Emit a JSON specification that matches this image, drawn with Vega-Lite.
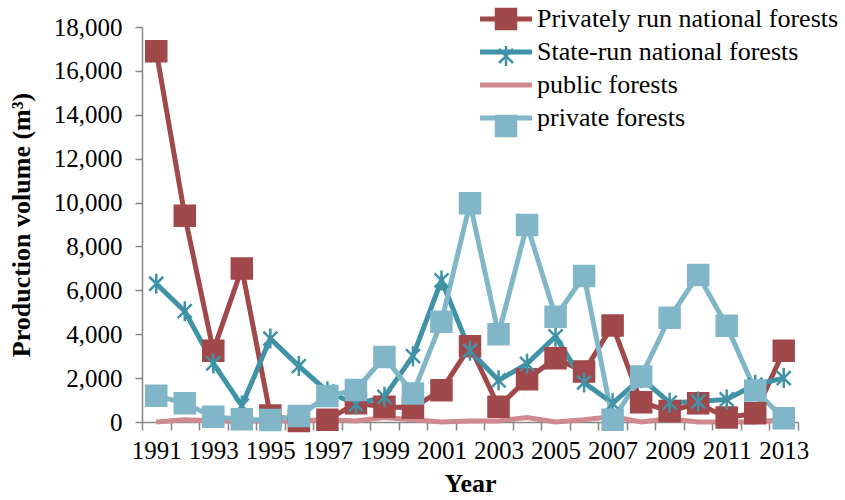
{
  "$schema": "https://vega.github.io/schema/vega-lite/v6.json",
  "width": 656,
  "height": 395,
  "autosize": {"type": "none"},
  "padding": {"left": 142, "top": 27, "right": 47, "bottom": 78},
  "background": "white",
  "config": {"view": {"stroke": null}, "font": "Liberation Serif"},
  "datasets": {
    "main": [
      {"Year": 1991, "Series": "Privately run national forests", "Volume": 16900},
      {"Year": 1992, "Series": "Privately run national forests", "Volume": 9400},
      {"Year": 1993, "Series": "Privately run national forests", "Volume": 3250},
      {"Year": 1994, "Series": "Privately run national forests", "Volume": 7000},
      {"Year": 1995, "Series": "Privately run national forests", "Volume": 300},
      {"Year": 1996, "Series": "Privately run national forests", "Volume": 50},
      {"Year": 1997, "Series": "Privately run national forests", "Volume": 100},
      {"Year": 1998, "Series": "Privately run national forests", "Volume": 850},
      {"Year": 1999, "Series": "Privately run national forests", "Volume": 700},
      {"Year": 2000, "Series": "Privately run national forests", "Volume": 650},
      {"Year": 2001, "Series": "Privately run national forests", "Volume": 1450},
      {"Year": 2002, "Series": "Privately run national forests", "Volume": 3450},
      {"Year": 2003, "Series": "Privately run national forests", "Volume": 700},
      {"Year": 2004, "Series": "Privately run national forests", "Volume": 1950},
      {"Year": 2005, "Series": "Privately run national forests", "Volume": 2900},
      {"Year": 2006, "Series": "Privately run national forests", "Volume": 2300},
      {"Year": 2007, "Series": "Privately run national forests", "Volume": 4400},
      {"Year": 2008, "Series": "Privately run national forests", "Volume": 900},
      {"Year": 2009, "Series": "Privately run national forests", "Volume": 500},
      {"Year": 2010, "Series": "Privately run national forests", "Volume": 850},
      {"Year": 2011, "Series": "Privately run national forests", "Volume": 200},
      {"Year": 2012, "Series": "Privately run national forests", "Volume": 400},
      {"Year": 2013, "Series": "Privately run national forests", "Volume": 3250},
      {"Year": 1991, "Series": "State-run national forests", "Volume": 6300},
      {"Year": 1992, "Series": "State-run national forests", "Volume": 5050},
      {"Year": 1993, "Series": "State-run national forests", "Volume": 2670},
      {"Year": 1994, "Series": "State-run national forests", "Volume": 750},
      {"Year": 1995, "Series": "State-run national forests", "Volume": 3800},
      {"Year": 1996, "Series": "State-run national forests", "Volume": 2550},
      {"Year": 1997, "Series": "State-run national forests", "Volume": 1400},
      {"Year": 1998, "Series": "State-run national forests", "Volume": 800},
      {"Year": 1999, "Series": "State-run national forests", "Volume": 1150},
      {"Year": 2000, "Series": "State-run national forests", "Volume": 3000},
      {"Year": 2001, "Series": "State-run national forests", "Volume": 6450},
      {"Year": 2002, "Series": "State-run national forests", "Volume": 3250},
      {"Year": 2003, "Series": "State-run national forests", "Volume": 1900},
      {"Year": 2004, "Series": "State-run national forests", "Volume": 2650},
      {"Year": 2005, "Series": "State-run national forests", "Volume": 3900},
      {"Year": 2006, "Series": "State-run national forests", "Volume": 1800},
      {"Year": 2007, "Series": "State-run national forests", "Volume": 850},
      {"Year": 2008, "Series": "State-run national forests", "Volume": 2000},
      {"Year": 2009, "Series": "State-run national forests", "Volume": 880},
      {"Year": 2010, "Series": "State-run national forests", "Volume": 930},
      {"Year": 2011, "Series": "State-run national forests", "Volume": 1030},
      {"Year": 2012, "Series": "State-run national forests", "Volume": 1700},
      {"Year": 2013, "Series": "State-run national forests", "Volume": 2000},
      {"Year": 1991, "Series": "public forests", "Volume": 0},
      {"Year": 1992, "Series": "public forests", "Volume": 100},
      {"Year": 1993, "Series": "public forests", "Volume": 50},
      {"Year": 1994, "Series": "public forests", "Volume": 50},
      {"Year": 1995, "Series": "public forests", "Volume": 50},
      {"Year": 1996, "Series": "public forests", "Volume": 50},
      {"Year": 1997, "Series": "public forests", "Volume": 100},
      {"Year": 1998, "Series": "public forests", "Volume": 50},
      {"Year": 1999, "Series": "public forests", "Volume": 200},
      {"Year": 2000, "Series": "public forests", "Volume": 100},
      {"Year": 2001, "Series": "public forests", "Volume": 0},
      {"Year": 2002, "Series": "public forests", "Volume": 50},
      {"Year": 2003, "Series": "public forests", "Volume": 50},
      {"Year": 2004, "Series": "public forests", "Volume": 200},
      {"Year": 2005, "Series": "public forests", "Volume": 0},
      {"Year": 2006, "Series": "public forests", "Volume": 100},
      {"Year": 2007, "Series": "public forests", "Volume": 250},
      {"Year": 2008, "Series": "public forests", "Volume": 0},
      {"Year": 2009, "Series": "public forests", "Volume": 150},
      {"Year": 2010, "Series": "public forests", "Volume": 0},
      {"Year": 2011, "Series": "public forests", "Volume": 0},
      {"Year": 2012, "Series": "public forests", "Volume": 0},
      {"Year": 2013, "Series": "public forests", "Volume": 100},
      {"Year": 1991, "Series": "private forests", "Volume": 1200},
      {"Year": 1992, "Series": "private forests", "Volume": 850},
      {"Year": 1993, "Series": "private forests", "Volume": 240},
      {"Year": 1994, "Series": "private forests", "Volume": 120},
      {"Year": 1995, "Series": "private forests", "Volume": 90},
      {"Year": 1996, "Series": "private forests", "Volume": 270},
      {"Year": 1997, "Series": "private forests", "Volume": 1180},
      {"Year": 1998, "Series": "private forests", "Volume": 1460},
      {"Year": 1999, "Series": "private forests", "Volume": 2960},
      {"Year": 2000, "Series": "private forests", "Volume": 1300},
      {"Year": 2001, "Series": "private forests", "Volume": 4570},
      {"Year": 2002, "Series": "private forests", "Volume": 9970},
      {"Year": 2003, "Series": "private forests", "Volume": 4000},
      {"Year": 2004, "Series": "private forests", "Volume": 8980},
      {"Year": 2005, "Series": "private forests", "Volume": 4800},
      {"Year": 2006, "Series": "private forests", "Volume": 6650},
      {"Year": 2007, "Series": "private forests", "Volume": 100},
      {"Year": 2008, "Series": "private forests", "Volume": 2070},
      {"Year": 2009, "Series": "private forests", "Volume": 4750},
      {"Year": 2010, "Series": "private forests", "Volume": 6700},
      {"Year": 2011, "Series": "private forests", "Volume": 4390},
      {"Year": 2012, "Series": "private forests", "Volume": 1430},
      {"Year": 2013, "Series": "private forests", "Volume": 170}
    ]
  },
  "data": {"name": "main"},
  "encoding": {
    "x": {
      "field": "Year",
      "type": "ordinal",
      "scale": {"type": "band", "paddingInner": 0, "paddingOuter": 0},
      "axis": {
        "title": "Year",
        "titleFontSize": 26,
        "titleFontWeight": "bold",
        "titleColor": "black",
        "titlePadding": 7,
        "labelFontSize": 25,
        "labelColor": "black",
        "labelAngle": 0,
        "labelOverlap": false,
        "labelExpr": "datum.value % 2 == 1 ? datum.label : ''",
        "labelPadding": 8,
        "tickBand": "extent",
        "tickSize": 8,
        "tickColor": "#868686",
        "tickWidth": 1.5,
        "domainColor": "#868686",
        "domainWidth": 1.5,
        "grid": false
      }
    },
    "y": {
      "field": "Volume",
      "type": "quantitative",
      "scale": {"domain": [0, 18000], "nice": false},
      "axis": {
        "title": "Production volume (m³)",
        "titleFontSize": 26,
        "titleFontWeight": "bold",
        "titleColor": "black",
        "titlePadding": 19,
        "values": [0, 2000, 4000, 6000, 8000, 10000, 12000, 14000, 16000, 18000],
        "format": ",.0f",
        "labelFontSize": 25,
        "labelColor": "black",
        "labelPadding": 13,
        "tickSize": 7,
        "tickColor": "#868686",
        "tickWidth": 1.5,
        "domainColor": "#868686",
        "domainWidth": 1.5,
        "grid": false
      }
    }
  },
  "layer": [
    {
      "mark": {"type": "line", "strokeWidth": 5},
      "encoding": {
        "color": {
          "field": "Series",
          "type": "nominal",
          "scale": {
            "domain": ["Privately run national forests", "State-run national forests", "public forests", "private forests", "zz"],
            "range": ["#A0484A", "#4093A7", "#CF8A8E", "#80B6C8", "#000000"]
          },
          "legend": {
            "orient": "none",
            "legendX": 351,
            "legendY": -21,
            "title": null,
            "padding": 0,
            "values": ["Privately run national forests", "State-run national forests", "public forests", "private forests"],
            "symbolType": "M-2.6,0L2.6,0",
            "symbolSize": 400,
            "symbolStrokeWidth": 5,
            "labelFont": "Liberation Serif",
            "labelFontSize": 26,
            "labelLimit": 500,
            "labelColor": "black",
            "labelOffset": 18,
            "rowPadding": 7
          }
        }
      }
    },
    {
      "transform": [{"filter": "datum.Series !== 'public forests'"}],
      "mark": {"type": "point", "filled": true, "size": 400, "strokeWidth": 2.5, "opacity": 1},
      "encoding": {
        "fill": {
          "field": "Series",
          "type": "nominal",
          "scale": {
            "domain": ["Privately run national forests", "State-run national forests", "public forests", "private forests"],
            "range": ["#A0484A", "#4093A7", "#CF8A8E", "#80B6C8"]
          },
          "legend": {
            "orient": "none",
            "legendX": 351,
            "legendY": -21,
            "title": null,
            "padding": 0,
            "symbolSize": 400,
            "symbolStrokeWidth": 2.5,
            "labelFontSize": 26,
            "labelExpr": "''",
            "labelOffset": 18,
            "rowPadding": 7
          }
        },
        "stroke": {
          "field": "Series",
          "type": "nominal",
          "scale": {
            "domain": ["Privately run national forests", "State-run national forests", "public forests", "private forests"],
            "range": ["#A0484A", "#4093A7", "#CF8A8E", "#80B6C8"]
          },
          "legend": {
            "orient": "none",
            "legendX": 351,
            "legendY": -21,
            "title": null,
            "padding": 0,
            "symbolSize": 400,
            "symbolStrokeWidth": 2.5,
            "labelFontSize": 26,
            "labelExpr": "''",
            "labelOffset": 18,
            "rowPadding": 7
          }
        },
        "shape": {
          "field": "Series",
          "type": "nominal",
          "scale": {
            "domain": ["Privately run national forests", "State-run national forests", "public forests", "private forests"],
            "range": ["square", "M0,-1L0,1M-0.7,-0.7L0.7,0.7M-0.7,0.7L0.7,-0.7", "M0,0", "square"]
          },
          "legend": {
            "orient": "none",
            "legendX": 351,
            "legendY": -21,
            "title": null,
            "padding": 0,
            "symbolSize": 400,
            "symbolStrokeWidth": 2.5,
            "labelFontSize": 26,
            "labelExpr": "''",
            "labelOffset": 18,
            "rowPadding": 7
          }
        }
      }
    }
  ]
}
